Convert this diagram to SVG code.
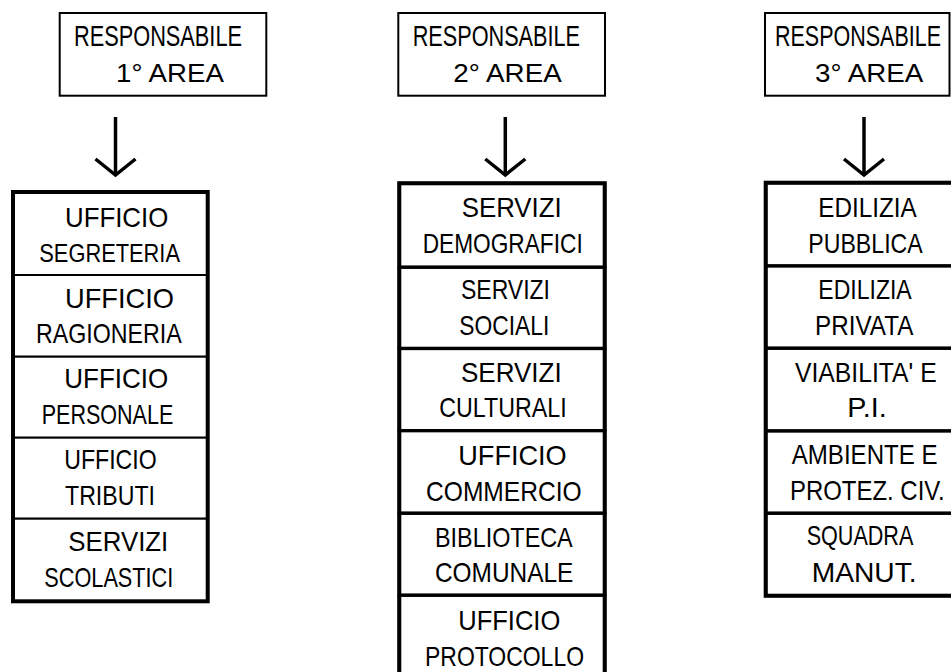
<svg xmlns="http://www.w3.org/2000/svg" width="951" height="672" viewBox="0 0 951 672">
<style>
  text { font-family: "Liberation Sans", Arial, sans-serif; fill: #000; }
  .t { font-size: 27.5px; }
  .h { font-size: 29px; }
  .a { font-size: 26.5px; }
  .head { fill: #fff; stroke: #000; stroke-width: 2; }
  .outer { fill: none; stroke: #000; stroke-width: 4; }
  .c1 { fill: #fff; stroke: #000; stroke-width: 2; }
  .c2 { fill: #fff; stroke: #000; stroke-width: 3.3; }
  .conn { fill: none; stroke: #000; stroke-width: 3.5; }
</style>
<defs>
  <marker id="arr" markerUnits="userSpaceOnUse" viewBox="-24 -26 30 52" refX="0" refY="0" markerWidth="30" markerHeight="52" orient="auto" overflow="visible">
    <path d="M -16,-20 L 0,0 L -16,20" fill="none" stroke="#000" stroke-width="3.5" stroke-linejoin="miter"/>
  </marker>
</defs>
<rect width="951" height="672" fill="#fff"/>

<g id="resp1">
  <rect class="head" x="59.7" y="13" width="206.6" height="82.7"/>
  <text class="h" x="74" y="46" textLength="168" lengthAdjust="spacingAndGlyphs">RESPONSABILE</text>
  <text class="a" x="116" y="81.7" textLength="108" lengthAdjust="spacingAndGlyphs">1° AREA</text>
</g>
<g id="resp2">
  <rect class="head" x="398.3" y="13" width="206.7" height="82.7"/>
  <text class="h" x="412.7" y="46" textLength="167.3" lengthAdjust="spacingAndGlyphs">RESPONSABILE</text>
  <text class="a" x="453.3" y="81.7" textLength="108.4" lengthAdjust="spacingAndGlyphs">2° AREA</text>
</g>
<g id="resp3">
  <rect class="head" x="765" y="13" width="184.5" height="82.7"/>
  <text class="h" x="0" y="0" transform="translate(775,46) scale(0.741,1)">RESPONSABILE</text>
  <text class="a" x="815" y="81.7" textLength="108.3" lengthAdjust="spacingAndGlyphs">3° AREA</text>
</g>

<g id="connectors">
  <line class="conn" x1="115.5" y1="117" x2="115.5" y2="175" marker-end="url(#arr)"/>
  <line class="conn" x1="505.3" y1="117" x2="505.3" y2="175" marker-end="url(#arr)"/>
  <line class="conn" x1="864" y1="117" x2="864" y2="175" marker-end="url(#arr)"/>
</g>

<g id="area1-offices">
  <g id="segreteria">
    <rect class="c1" x="13" y="192" width="194.7" height="83"/>
    <text class="t" x="65" y="226.7" textLength="103.3" lengthAdjust="spacingAndGlyphs">UFFICIO</text>
    <text class="t" x="39.3" y="261.7" style="font-size:25.5px" textLength="140.7" lengthAdjust="spacingAndGlyphs">SEGRETERIA</text>
  </g>
  <g id="ragioneria">
    <rect class="c1" x="13" y="275" width="194.7" height="81.7"/>
    <text class="t" x="65" y="307.7" textLength="109" lengthAdjust="spacingAndGlyphs">UFFICIO</text>
    <text class="t" x="36" y="343.3" textLength="145.7" lengthAdjust="spacingAndGlyphs">RAGIONERIA</text>
  </g>
  <g id="personale">
    <rect class="c1" x="13" y="356.7" width="194.7" height="81"/>
    <text class="t" x="64.3" y="388.3" textLength="104" lengthAdjust="spacingAndGlyphs">UFFICIO</text>
    <text class="t" x="41.7" y="424.3" textLength="131.6" lengthAdjust="spacingAndGlyphs">PERSONALE</text>
  </g>
  <g id="tributi">
    <rect class="c1" x="13" y="437.7" width="194.7" height="81"/>
    <text class="t" x="64.3" y="469.3" textLength="92.4" lengthAdjust="spacingAndGlyphs">UFFICIO</text>
    <text class="t" x="65" y="505" textLength="90" lengthAdjust="spacingAndGlyphs">TRIBUTI</text>
  </g>
  <g id="scolastici">
    <rect class="c1" x="13" y="518.7" width="194.7" height="82.6"/>
    <text class="t" x="68.3" y="550.7" textLength="100" lengthAdjust="spacingAndGlyphs">SERVIZI</text>
    <text class="t" x="44.3" y="587.3" textLength="129" lengthAdjust="spacingAndGlyphs">SCOLASTICI</text>
  </g>
  <rect class="outer" x="13" y="192" width="194.7" height="409.3"/>
</g>

<g id="area2-offices">
  <g id="demografici">
    <rect class="c2" x="399.3" y="183.3" width="205.4" height="84"/>
    <text class="t" x="461.7" y="216.7" textLength="100" lengthAdjust="spacingAndGlyphs">SERVIZI</text>
    <text class="t" x="422.7" y="253.3" textLength="160" lengthAdjust="spacingAndGlyphs">DEMOGRAFICI</text>
  </g>
  <g id="sociali">
    <rect class="c2" x="399.3" y="267.3" width="205.4" height="81.2"/>
    <text class="t" x="461" y="299" textLength="89" lengthAdjust="spacingAndGlyphs">SERVIZI</text>
    <text class="t" x="459.3" y="335" textLength="90" lengthAdjust="spacingAndGlyphs">SOCIALI</text>
  </g>
  <g id="culturali">
    <rect class="c2" x="399.3" y="348.5" width="205.4" height="82.2"/>
    <text class="t" x="461" y="381.7" textLength="100.7" lengthAdjust="spacingAndGlyphs">SERVIZI</text>
    <text class="t" x="439.3" y="417.3" textLength="127.4" lengthAdjust="spacingAndGlyphs">CULTURALI</text>
  </g>
  <g id="commercio">
    <rect class="c2" x="399.3" y="430.7" width="205.4" height="82.6"/>
    <text class="t" x="458.3" y="465" textLength="108.4" lengthAdjust="spacingAndGlyphs">UFFICIO</text>
    <text class="t" x="426" y="500.7" textLength="155.7" lengthAdjust="spacingAndGlyphs">COMMERCIO</text>
  </g>
  <g id="biblioteca">
    <rect class="c2" x="399.3" y="513.3" width="205.4" height="82"/>
    <text class="t" x="435" y="546.7" textLength="137.7" lengthAdjust="spacingAndGlyphs">BIBLIOTECA</text>
    <text class="t" x="435" y="581.7" textLength="138.3" lengthAdjust="spacingAndGlyphs">COMUNALE</text>
  </g>
  <g id="protocollo">
    <rect class="c2" x="399.3" y="595.3" width="205.4" height="83.7"/>
    <text class="t" x="458.3" y="629.5" textLength="102" lengthAdjust="spacingAndGlyphs">UFFICIO</text>
    <text class="t" x="425" y="665.5" textLength="159" lengthAdjust="spacingAndGlyphs">PROTOCOLLO</text>
  </g>
  <rect class="outer" x="399.3" y="183.3" width="205.4" height="495.7"/>
</g>

<g id="area3-offices">
  <g id="edilizia-pubblica">
    <rect class="c2" x="765.7" y="182.7" width="194" height="83.3"/>
    <text class="t" x="818.3" y="216.7" textLength="98.4" lengthAdjust="spacingAndGlyphs">EDILIZIA</text>
    <text class="t" x="808.3" y="252.7" textLength="114.4" lengthAdjust="spacingAndGlyphs">PUBBLICA</text>
  </g>
  <g id="edilizia-privata">
    <rect class="c2" x="765.7" y="266" width="194" height="82.3"/>
    <text class="t" x="818.3" y="299.3" textLength="93.4" lengthAdjust="spacingAndGlyphs">EDILIZIA</text>
    <text class="t" x="815" y="335" textLength="98.3" lengthAdjust="spacingAndGlyphs">PRIVATA</text>
  </g>
  <g id="viabilita">
    <rect class="c2" x="765.7" y="348.3" width="194" height="82.7"/>
    <text class="t" x="795" y="381.7" textLength="141.7" lengthAdjust="spacingAndGlyphs">VIABILITA' E</text>
    <text class="t" x="847.3" y="417.3" textLength="39.4" lengthAdjust="spacingAndGlyphs">P.I.</text>
  </g>
  <g id="ambiente">
    <rect class="c2" x="765.7" y="431" width="194" height="82.3"/>
    <text class="t" x="0" y="0" transform="translate(791.7,464) scale(0.876,1)">AMBIENTE E</text>
    <text class="t" x="0" y="0" transform="translate(790,500) scale(0.871,1)">PROTEZ. CIV.</text>
  </g>
  <g id="squadra">
    <rect class="c2" x="765.7" y="513.3" width="194" height="82.4"/>
    <text class="t" x="806.7" y="545" textLength="106.6" lengthAdjust="spacingAndGlyphs">SQUADRA</text>
    <text class="t" x="811.7" y="581.7" textLength="105" lengthAdjust="spacingAndGlyphs">MANUT.</text>
  </g>
  <rect class="outer" x="765.7" y="182.7" width="194" height="413"/>
</g>
</svg>
